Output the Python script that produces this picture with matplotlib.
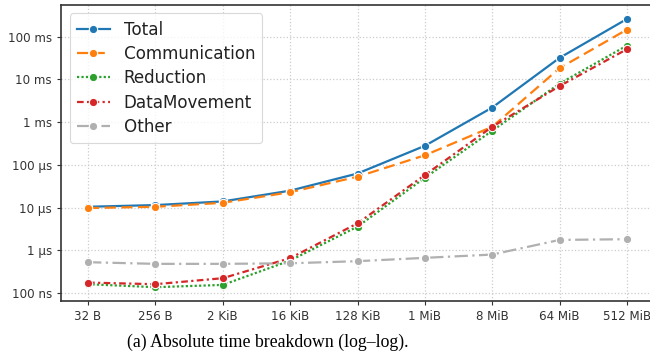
import matplotlib
matplotlib.use("Agg")
import matplotlib.pyplot as plt
from matplotlib.ticker import FixedLocator, FuncFormatter, NullLocator

sizes = ["32 B", "256 B", "2 KiB", "16 KiB", "128 KiB", "1 MiB", "8 MiB", "64 MiB", "512 MiB"]

# times in seconds
total = [1.05e-5, 1.15e-5, 1.4e-5, 2.5e-5, 6.3e-5, 2.8e-4, 2.2e-3, 3.2e-2, 0.26]
communication = [9.8e-6, 1.05e-5, 1.3e-5, 2.3e-5, 5.3e-5, 1.68e-4, 7.8e-4, 1.84e-2, 0.147]
reduction = [1.62e-7, 1.38e-7, 1.56e-7, 5.8e-7, 3.6e-6, 5.0e-5, 6.3e-4, 8.0e-3, 6.2e-2]
data_movement = [1.77e-7, 1.62e-7, 2.24e-7, 6.6e-7, 4.3e-6, 5.8e-5, 7.8e-4, 7.0e-3, 5.1e-2]
other = [5.3e-7, 4.85e-7, 4.85e-7, 5.0e-7, 5.6e-7, 6.7e-7, 8.0e-7, 1.76e-6, 1.83e-6]

series = [
    ("Total", total, "#1f77b4", "-"),
    ("Communication", communication, "#ff7f0e", (0, (5, 2.5))),
    ("Reduction", reduction, "#2ca02c", (0, (1, 1))),
    ("DataMovement", data_movement, "#d62728", (0, (3, 1.5, 1, 1.5))),
    ("Other", other, "#b0b0b0", (0, (6, 2, 1, 2))),
]

tick_vals = [1e-7, 1e-6, 1e-5, 1e-4, 1e-3, 1e-2, 1e-1]
tick_labels = ["100 ns", "1 µs", "10 µs", "100 µs", "1 ms", "10 ms", "100 ms"]

fig = plt.figure(figsize=(6.5, 3.6), dpi=100)
ax = fig.add_axes([0.094, 0.165, 0.912, 0.821])

x = list(range(len(sizes)))
for name, vals, col, ls in series:
    ax.plot(x, vals, color=col, linestyle=ls, linewidth=1.6, marker="o",
            markersize=6, markeredgecolor="white", markeredgewidth=0.8, label=name)

ax.set_yscale("log")
ax.set_ylim(6.7e-8, 0.55)
ax.set_xlim(-0.4, 8.4)
ax.yaxis.set_major_locator(FixedLocator(tick_vals))
ax.yaxis.set_major_formatter(FuncFormatter(lambda v, p: tick_labels[tick_vals.index(v)] if v in tick_vals else ""))
ax.yaxis.set_minor_locator(NullLocator())
ax.set_xticks(x)
ax.set_xticklabels(sizes)
ax.tick_params(labelsize=8.6, colors="#333333", length=3, width=0.8)

ax.grid(True, linestyle=":", color="#cccccc", linewidth=0.9)
ax.set_axisbelow(True)
for s in ["left", "bottom", "top"]:
    ax.spines[s].set_color("#333333")
    ax.spines[s].set_linewidth(1.2)
ax.spines["right"].set_visible(False)

leg = ax.legend(loc="upper left", fontsize=12.1, frameon=True, fancybox=True,
                handlelength=2.0, handletextpad=0.8, borderaxespad=0.5,
                labelspacing=0.38, borderpad=0.42)
leg.get_frame().set_edgecolor("#d0d0d0")
leg.get_frame().set_linewidth(0.8)
for t in leg.get_texts():
    t.set_color("#222222")

fig.text(0.412, 0.05, "(a) Absolute time breakdown (log–log).", ha="center", va="center",
         family="Liberation Serif", fontsize=12.8)

fig.savefig("out.png", dpi=100)
